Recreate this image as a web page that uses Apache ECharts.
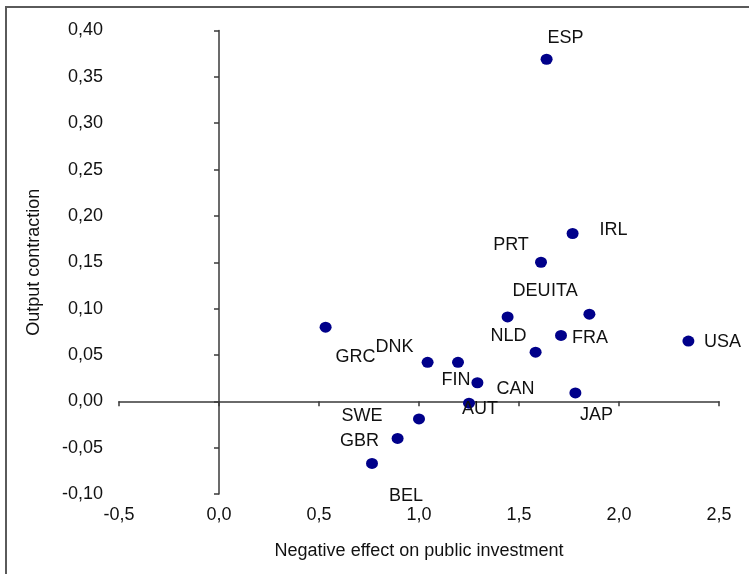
<!DOCTYPE html>
<html>
<head>
<meta charset="utf-8">
<script src="https://cdn.jsdelivr.net/npm/echarts@6/dist/echarts.min.js"></script>
<style>
  html, body { margin: 0; padding: 0; background: #fff; }
  #chart { width: 749px; height: 574px; }
</style>
</head>
<body>
<div id="chart"></div>
<script>
// Countries, public-investment effect (x) and output contraction (y)
const countries = ['ESP', 'IRL', 'PRT', 'DEU', 'ITA', 'NLD', 'FRA', 'USA', 'JAP',
                   'CAN', 'AUT', 'FIN', 'DNK', 'GRC', 'SWE', 'GBR', 'BEL'];
const investmentEffect = [1.638, 1.768, 1.610, 1.443, 1.852, 1.583, 1.710, 2.347, 1.782,
                          1.292, 1.250, 1.195, 1.043, 0.533, 1.000, 0.893, 0.765];
const outputContraction = [0.369, 0.181, 0.150, 0.091, 0.094, 0.053, 0.071, 0.065, 0.009,
                           0.020, -0.002, 0.042, 0.042, 0.080, -0.019, -0.040, -0.067];

// Axis ranges and tick steps
const xRange = { min: -0.5, max: 2.5, interval: 0.5 };
const yRange = { min: -0.10, max: 0.40, interval: 0.05 };

// Where each country label sits relative to its dot, in pixels
const labelOffsets = {
  ESP: [19, -21], IRL: [41, -3], PRT: [-30, -17], DEU: [24, -26], ITA: [-25, -23],
  NLD: [-27, -16], FRA: [29, 3], USA: [34, 1], JAP: [21, 22], CAN: [38, 6],
  AUT: [11, 6], FIN: [-2, 18], DNK: [-33, -15], GRC: [30, 30], SWE: [-57, -3],
  GBR: [-38, 3], BEL: [34, 33]
};

const FONT = '"Liberation Sans", Arial, sans-serif';
const AXIS_COLOR = '#3a3a3a';
const TEXT_COLOR = '#111';

const points = countries.map((c, i) => ({
  name: c,
  value: [investmentEffect[i], outputContraction[i]],
  label: { offset: labelOffsets[c] }
}));

const chart = echarts.init(document.getElementById('chart'), null, { renderer: 'canvas' });

const labelAxisX = {
  type: 'value', position: 'bottom', ...xRange,
  axisLine: { show: false, onZero: false },
  axisTick: { show: false },
  splitLine: { show: false },
  axisLabel: {
    margin: 12, color: TEXT_COLOR, fontFamily: FONT, fontSize: 18,
    formatter: v => v.toFixed(1).replace('.', ',')
  },
  name: 'Negative effect on public investment',
  nameLocation: 'middle', nameGap: 48,
  nameTextStyle: { color: TEXT_COLOR, fontFamily: FONT, fontSize: 18 }
};
const zeroAxisX = {
  type: 'value', position: 'bottom', ...xRange,
  axisLine: { show: true, onZero: true, lineStyle: { color: AXIS_COLOR, width: 1.5 } },
  axisTick: { show: true, length: 5, lineStyle: { color: AXIS_COLOR, width: 1.5 } },
  axisLabel: { show: false },
  splitLine: { show: false }
};
const labelAxisY = {
  type: 'value', position: 'left', ...yRange,
  axisLine: { show: false, onZero: false },
  axisTick: { show: false },
  splitLine: { show: false },
  axisLabel: {
    margin: 16, color: TEXT_COLOR, fontFamily: FONT, fontSize: 18,
    formatter: v => v.toFixed(2).replace('.', ',')
  },
  name: 'Output contraction',
  nameLocation: 'middle', nameGap: 76,
  nameTextStyle: { color: TEXT_COLOR, fontFamily: FONT, fontSize: 18 }
};
const zeroAxisY = {
  type: 'value', position: 'left', ...yRange,
  axisLine: { show: true, onZero: true, lineStyle: { color: AXIS_COLOR, width: 1.5 } },
  axisTick: { show: true, length: 5, lineStyle: { color: AXIS_COLOR, width: 1.5 } },
  axisLabel: { show: false },
  splitLine: { show: false }
};

chart.setOption({
  animation: false,
  backgroundColor: '#fff',
  grid: { left: 119, right: 30, top: 30.5, bottom: 80, containLabel: false },
  xAxis: [labelAxisX, zeroAxisX],
  yAxis: [labelAxisY, zeroAxisY],
  graphic: [
    { type: 'polyline', silent: true,
      shape: { points: [[6, 574], [6, 7], [749, 7]] },
      style: { stroke: '#5a5a5a', lineWidth: 2, fill: null } }
  ],
  series: [{
    type: 'scatter',
    xAxisIndex: 0, yAxisIndex: 0,
    symbol: 'circle',
    symbolSize: [12, 11],
    itemStyle: { color: '#00008a', opacity: 1 },
    label: {
      show: true,
      position: 'inside',
      formatter: p => p.name,
      color: TEXT_COLOR,
      fontFamily: FONT,
      fontSize: 18,
      align: 'center',
      verticalAlign: 'middle'
    },
    data: points
  }]
});
</script>
</body>
</html>
